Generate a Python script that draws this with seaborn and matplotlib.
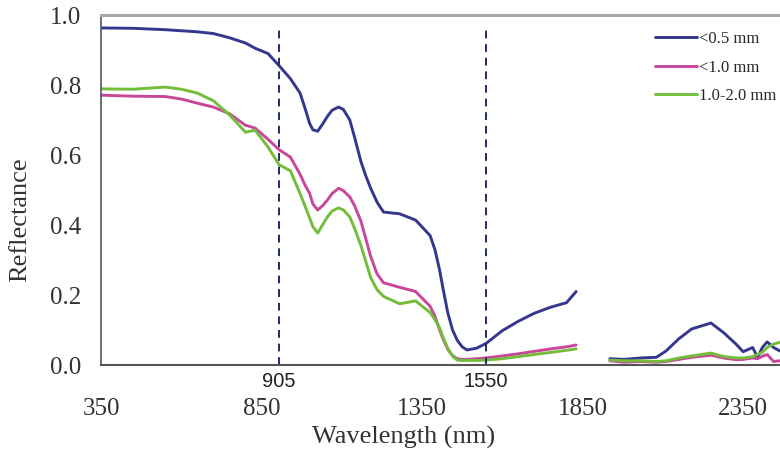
import numpy as np
import pandas as pd
import matplotlib
matplotlib.use('Agg')
import matplotlib.pyplot as plt
import seaborn as sns

# wavelengths (nm), two pieces with the water band left out
wl_a = [350, 450, 550, 600, 650, 700, 750, 800, 830, 870, 905, 940, 970, 985, 1000,
        1010, 1025, 1040, 1055, 1070, 1090, 1105, 1125, 1140, 1160, 1175, 1190, 1210,
        1230, 1280, 1330, 1375, 1390, 1405, 1415, 1430, 1445, 1460, 1475, 1490, 1520,
        1550, 1600, 1650, 1700, 1750, 1800, 1830]
wl_b = [1935, 1980, 2030, 2080, 2110, 2150, 2190, 2250, 2290, 2330, 2350, 2380,
        2395, 2410, 2425, 2445, 2465]

# <0.5 mm
fine_a = [0.963, 0.962, 0.958, 0.955, 0.952, 0.947, 0.935, 0.92, 0.905, 0.89, 0.855,
          0.818, 0.777, 0.735, 0.69, 0.672, 0.668, 0.688, 0.71, 0.728, 0.737, 0.73,
          0.70, 0.65, 0.58, 0.54, 0.505, 0.465, 0.437, 0.432, 0.414, 0.37, 0.33, 0.27,
          0.22, 0.15, 0.10, 0.07, 0.052, 0.043, 0.048, 0.062, 0.098, 0.125, 0.148,
          0.165, 0.178, 0.21]
fine_b = [0.018, 0.016, 0.02, 0.022, 0.04, 0.075, 0.103, 0.12, 0.092, 0.058, 0.038,
          0.05, 0.022, 0.05, 0.066, 0.05, 0.04]

# <1.0 mm
mid_a = [0.771, 0.768, 0.767, 0.76, 0.748, 0.737, 0.718, 0.685, 0.677, 0.645, 0.615,
         0.594, 0.545, 0.515, 0.49, 0.46, 0.443, 0.455, 0.471, 0.49, 0.505, 0.498,
         0.48, 0.455, 0.41, 0.36, 0.31, 0.26, 0.235, 0.222, 0.21, 0.168, 0.14, 0.10,
         0.075, 0.045, 0.027, 0.018, 0.016, 0.016, 0.018, 0.02, 0.026, 0.032, 0.039,
         0.046, 0.052, 0.057]
mid_b = [0.012, 0.008, 0.01, 0.008, 0.01, 0.016, 0.022, 0.028, 0.02, 0.015, 0.016,
         0.02, 0.018, 0.025, 0.03, 0.01, 0.012]

# 1.0-2.0 mm
coarse_a = [0.789, 0.788, 0.794, 0.788, 0.777, 0.755, 0.715, 0.665, 0.671, 0.623,
            0.572, 0.555, 0.49, 0.455, 0.42, 0.395, 0.377, 0.40, 0.423, 0.44, 0.449,
            0.443, 0.423, 0.39, 0.34, 0.295, 0.25, 0.215, 0.196, 0.175, 0.183, 0.15,
            0.13, 0.105, 0.08, 0.048, 0.025, 0.014, 0.013, 0.013, 0.013, 0.014, 0.018,
            0.024, 0.03, 0.036, 0.042, 0.046]
coarse_b = [0.014, 0.012, 0.012, 0.01, 0.012, 0.02, 0.026, 0.034, 0.024, 0.02, 0.02,
            0.024, 0.03, 0.036, 0.05, 0.06, 0.065]

sizes = ['<0.5 mm', '<1.0 mm', '1.0-2.0 mm']
colors = ['#35378f', '#c8479b', '#74bd3a']
marked_wl = [905, 1550]
x_ticks = [350, 850, 1350, 1850, 2350]
y_ticks = [0.0, 0.2, 0.4, 0.6, 0.8, 1.0]

# long table for seaborn
rows = []
for size, seg_a, seg_b in zip(sizes, [fine_a, mid_a, coarse_a], [fine_b, mid_b, coarse_b]):
    for w, r in zip(wl_a, seg_a):
        rows.append((size, 'a', w, r))
    for w, r in zip(wl_b, seg_b):
        rows.append((size, 'b', w, r))
df = pd.DataFrame(rows, columns=['Size', 'Segment', 'Wavelength', 'Reflectance'])

sns.set_style('white')
plt.rcParams['font.family'] = ['Liberation Serif', 'DejaVu Serif']

fig = plt.figure(figsize=(7.8, 4.5), dpi=100)
ax = fig.add_axes([101 / 780, 85 / 450, 1 - 101 / 780, 350 / 450])

sns.lineplot(data=df, x='Wavelength', y='Reflectance', hue='Size', units='Segment',
             estimator=None, hue_order=sizes, palette=colors, linewidth=2.1,
             sort=False, ax=ax)

for w in marked_wl:
    ax.plot([w, w], [0, 0.963], color='#1f2c6b', linestyle=(0, (4, 3)), linewidth=1.4)

ax.set_xlim(350, 2465)
ax.set_ylim(0, 1.0)
ax.set_xticks(x_ticks)
ax.set_xticklabels([str(t) for t in x_ticks], fontsize=18, color='#333333')
ax.set_xticks(marked_wl, minor=True)
ax.set_xticklabels([str(t) for t in marked_wl], minor=True, fontsize=14.5,
                   family=['Liberation Sans', 'DejaVu Sans'], color='#222222')
ax.set_yticks(y_ticks)
ax.set_yticklabels(['%.1f' % t for t in y_ticks], fontsize=18, color='#333333')
ax.tick_params(axis='x', which='major', direction='inout', length=8, width=1,
               pad=20, color='#555555')
ax.tick_params(axis='x', which='minor', length=0, pad=5)
ax.tick_params(axis='y', direction='out', length=6, width=1, pad=8, color='#555555')

ax.set_xlabel('Wavelength (nm)', fontsize=19, color='#333333')
ax.set_ylabel('Reflectance', fontsize=19, color='#333333')
ax.xaxis.set_label_coords(0.445, -0.175)
ax.yaxis.set_label_coords(-0.103, 0.414)

ax.spines['top'].set_color('#aaaaaa')
ax.spines['top'].set_linewidth(2.2)
ax.spines['left'].set_color('#555555')
ax.spines['left'].set_linewidth(1.2)
ax.spines['bottom'].set_color('#555555')
ax.spines['bottom'].set_linewidth(1.5)
ax.spines['right'].set_visible(False)

handles, labels = ax.get_legend_handles_labels()
ax.legend(handles, labels, loc='upper left', bbox_to_anchor=(655 / 780, 1 - 31 / 450),
          bbox_transform=fig.transFigure, frameon=False, fontsize=12,
          handlelength=2.5, handletextpad=0.15, labelspacing=0.75, borderpad=0,
          borderaxespad=0)

fig.savefig('out.png', dpi=100)
